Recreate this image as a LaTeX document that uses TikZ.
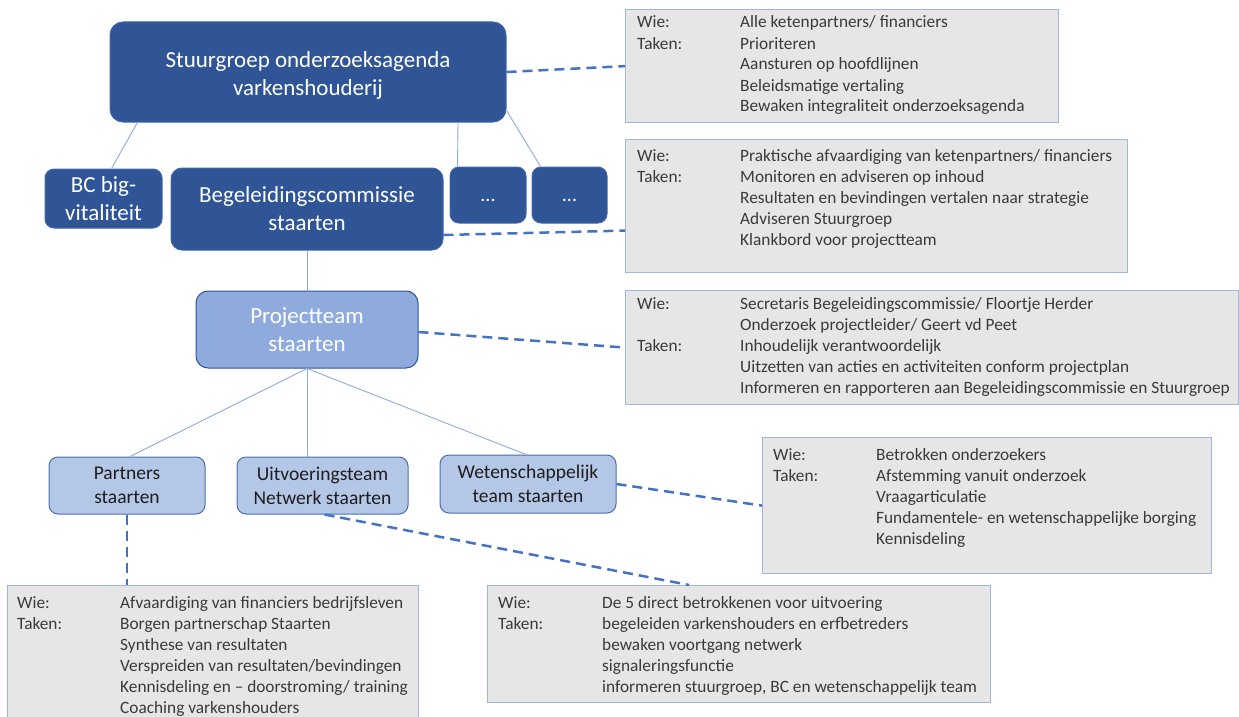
\documentclass[tikz,border=0pt]{standalone}
\usepackage{fontspec}
\setmainfont{Carlito}
\usetikzlibrary{calc}
\definecolor{dkblue}{HTML}{2F5597}
\definecolor{dkedge}{HTML}{4268AC}
\definecolor{ltedge}{HTML}{4A6EAF}
\definecolor{midblue}{HTML}{8FAADC}
\definecolor{ltblue}{HTML}{B4C7E7}
\definecolor{lineblue}{HTML}{8FAADC}
\definecolor{dashblue}{HTML}{4472C4}
\definecolor{greyfill}{HTML}{E7E6E6}
\definecolor{greyedge}{HTML}{A3B5DA}
\definecolor{txtgrey}{HTML}{3A3A3A}
\definecolor{txtdark}{HTML}{1E1E1E}
\tikzset{
  orgdark/.style={draw=dkedge, line width=1pt, fill=dkblue, rounded corners=13pt,
    text=white, align=center, inner sep=0pt, font=\fontsize{23}{28}\selectfont},
  orgdots/.style={orgdark, rounded corners=9pt, font=\fontsize{20}{24}\selectfont},
  orgmid/.style={draw=dkblue, line width=1pt, fill=midblue, rounded corners=12pt,
    text=white, align=center, inner sep=0pt, font=\fontsize{23}{28}\selectfont},
  orglight/.style={draw=ltedge, line width=1pt, fill=ltblue, rounded corners=9pt,
    text=txtdark, align=center, inner sep=0pt, font=\fontsize{19.5}{24}\selectfont},
  infobox/.style={draw=greyedge, line width=1.2pt, fill=greyfill, inner sep=0pt, anchor=north west},
  infotext/.style={inner sep=0pt, text=txtgrey, anchor=base west, font=\fontsize{17.3}{21}\selectfont},
  solidline/.style={draw=lineblue, line width=0.9pt},
  dashline/.style={draw=dashblue, line width=2.5pt, dash pattern=on 10pt off 6pt}
}
\begin{document}
\begin{tikzpicture}[x=1pt,y=-1pt]
\useasboundingbox (0,0) rectangle (1239,717);
% organisation boxes
\node[orgdark, minimum width=396pt, minimum height=100pt] (sg) at (308,72) {\rule{0pt}{22pt}Stuurgroep onderzoeksagenda\\varkenshouderij};
\node[orgdark, rounded corners=9pt, minimum width=117pt, minimum height=59pt] (bc) at (103.5,198.5) {BC big-\\vitaliteit};
\node[orgdark, rounded corners=11pt, minimum width=272pt, minimum height=82pt] (beg) at (307,209) {Begeleidingscommissie\\staarten};
\node[orgdots, minimum width=76pt, minimum height=56pt] (d1) at (488,195) {\raisebox{-6pt}[0pt][0pt]{...}};
\node[orgdots, minimum width=75pt, minimum height=56pt] (d2) at (569.5,195) {\raisebox{-6pt}[0pt][0pt]{...}};
\node[orgmid, minimum width=222pt, minimum height=77pt] (pt) at (307,329.5) {Projectteam\\staarten};
\node[orglight, minimum width=156pt, minimum height=57pt] (pa) at (127,485.5) {Partners\\staarten};
\node[orglight, minimum width=171pt, minimum height=57pt] (ui) at (322.5,485.5) {Uitvoeringsteam\\Netwerk staarten};
\node[orglight, minimum width=176pt, minimum height=58pt] (we) at (528,484) {Wetenschappelijk\\team staarten};
% info boxes
\node[infobox, minimum width=433pt, minimum height=113pt] (i1) at (625,9) {};
\node[infotext] (t1) at (637,28) {\begin{tabular}[t]{@{}p{103pt}@{}l@{}}
Wie: & Alle ketenpartners/ financiers\\
Taken: & Prioriteren\\
 & Aansturen op hoofdlijnen\\
 & Beleidsmatige vertaling\\
 & Bewaken integraliteit onderzoeksagenda
\end{tabular}};
\node[infobox, minimum width=502pt, minimum height=133pt] (i2) at (625,139) {};
\node[infotext] (t2) at (637,161) {\begin{tabular}[t]{@{}p{103pt}@{}l@{}}
Wie: & Praktische afvaardiging van ketenpartners/ financiers\\
Taken: & Monitoren en adviseren op inhoud\\
 & Resultaten en bevindingen vertalen naar strategie\\
 & Adviseren Stuurgroep\\
 & Klankbord voor projectteam
\end{tabular}};
\node[infobox, minimum width=613pt, minimum height=114pt] (i3) at (625,290) {};
\node[infotext] (t3) at (637,309) {\begin{tabular}[t]{@{}p{103pt}@{}l@{}}
Wie: & Secretaris Begeleidingscommissie/ Floortje Herder\\
 & Onderzoek projectleider/ Geert vd Peet\\
Taken: & Inhoudelijk verantwoordelijk\\
 & Uitzetten van acties en activiteiten conform projectplan\\
 & Informeren en rapporteren aan Begeleidingscommissie en Stuurgroep
\end{tabular}};
\node[infobox, minimum width=449pt, minimum height=136pt] (i4) at (762,437) {};
\node[infotext] (t4) at (773,460) {\begin{tabular}[t]{@{}p{103pt}@{}l@{}}
Wie: & Betrokken onderzoekers\\
Taken: & Afstemming vanuit onderzoek\\
 & Vraagarticulatie\\
 & Fundamentele- en wetenschappelijke borging\\
 & Kennisdeling
\end{tabular}};
\node[infobox, minimum width=411pt, minimum height=140pt] (i5) at (7,585) {};
\node[infotext] (t5) at (17,608) {\begin{tabular}[t]{@{}p{103pt}@{}l@{}}
Wie: & Afvaardiging van financiers bedrijfsleven\\
Taken: & Borgen partnerschap Staarten\\
 & Synthese van resultaten\\
 & Verspreiden van resultaten/bevindingen\\
 & Kennisdeling en – doorstroming/ training\\
 & Coaching varkenshouders
\end{tabular}};
\node[infobox, minimum width=503pt, minimum height=117pt] (i6) at (487,585) {};
\node[infotext] (t6) at (498,608) {\begin{tabular}[t]{@{}p{104pt}@{}l@{}}
Wie: & De 5 direct betrokkenen voor uitvoering\\
Taken: & begeleiden varkenshouders en erfbetreders\\
 & bewaken voortgang netwerk\\
 & signaleringsfunctie\\
 & informeren stuurgroep, BC en wetenschappelijk team
\end{tabular}};
% solid connectors
\draw[solidline] ([xshift=28pt]sg.south west) -- ([xshift=8pt]bc.north);
\draw[solidline] ([xshift=150pt]sg.south) -- ([xshift=8pt]d1.north west);
\draw[solidline] ([yshift=12pt]sg.south east) -- ([xshift=9pt]d2.north west);
\draw[solidline] (beg.south) -- (pt.north);
\draw[solidline] (pt.south) -- ([xshift=3pt]pa.north);
\draw[solidline] (pt.south) -- (pt.south |- ui.north);
\draw[solidline] (pt.south) -- ([xshift=-2pt]we.north);
% dashed connectors
\draw[dashline] (sg.east) -- (i1.west);
\draw[dashline] ([yshift=-26pt]beg.east) -- ([yshift=-24.5pt]i2.west);
\draw[dashline] ([yshift=-2.5pt]pt.east) -- (i3.west);
\draw[dashline] (we.east) -- (i4.west);
\draw[dashline] ([xshift=2pt]ui.south) -- ([xshift=-50pt]i6.north);
\draw[dashline] (pa.south) -- (pa.south |- i5.north);
\end{tikzpicture}
\end{document}
